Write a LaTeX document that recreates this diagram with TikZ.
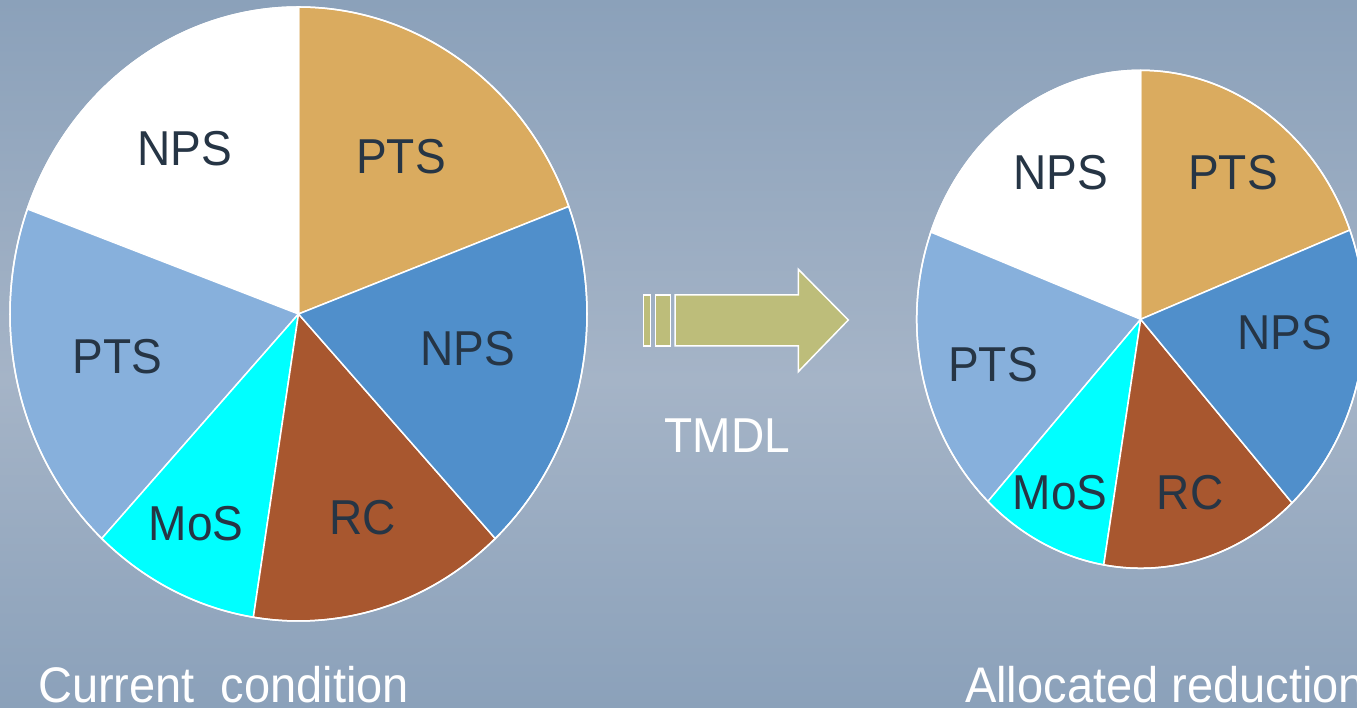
\documentclass[tikz,border=0pt]{standalone}
\usepackage{fontspec}
\setmainfont{Liberation Sans}
\definecolor{bgedge}{HTML}{8BA1BA}
\definecolor{bgmid}{HTML}{A5B4C7}
\definecolor{ptsA}{HTML}{DAAB5F}
\definecolor{npsB}{HTML}{508FCB}
\definecolor{rcC}{HTML}{A8572F}
\definecolor{mosC}{HTML}{00FFFF}
\definecolor{ptsL}{HTML}{87B0DC}
\definecolor{labelC}{HTML}{263545}
\definecolor{arrowC}{HTML}{BDBD7A}
\newcommand{\sqz}[1]{\scalebox{0.94}[1]{#1}}
\tikzset{
  slice/.style={draw=white, line width=1.5pt, line join=round},
  plabel/.style={inner sep=0pt, text=labelC, font=\fontsize{49}{55}\selectfont},
  wlabel/.style={inner sep=0pt, text=white, font=\fontsize{49}{55}\selectfont},
  caption/.style={inner sep=0pt, anchor=base west, text=white, font=\fontsize{50}{56}\selectfont},
  arrowpart/.style={fill=arrowC, draw=white, line width=1.5pt, line join=miter}
}
\newcommand{\pieslice}[7]{% center x, center y, rx, ry, a, b, color
  \fill[slice, fill=#7] (#1,#2) -- ++(#5:#3 and #4) arc[start angle=#5, end angle=#6, x radius=#3, y radius=#4] -- cycle;}
\begin{document}
\begin{tikzpicture}[x=1pt,y=1pt]
\clip (0,0) rectangle (1357,708);
\shade[top color=bgedge, bottom color=bgmid] (0,328) rectangle (1357,708);
\shade[top color=bgmid, bottom color=bgedge] (0,0) rectangle (1357,328.5);

% left pie
\pieslice{298.5}{394}{288.5}{307}{20.5}{90}{ptsA}
\pieslice{298.5}{394}{288.5}{307}{90}{160}{white}
\pieslice{298.5}{394}{288.5}{307}{160}{227}{ptsL}
\pieslice{298.5}{394}{288.5}{307}{227}{261}{mosC}
\pieslice{298.5}{394}{288.5}{307}{261}{313}{rcC}
\pieslice{298.5}{394}{288.5}{307}{313}{380.5}{npsB}
\draw[white, line width=1.5pt] (298.5,394) ellipse[x radius=288.5, y radius=307];

\node[plabel] (lnpsw) at (185,559) {\sqz{NPS}};
\node[plabel] (lpts) at (401,551) {\sqz{PTS}};
\node[plabel] (lnpsb) at (468,359) {\sqz{NPS}};
\node[plabel] (lptsl) at (117.5,351) {\sqz{PTS}};
\node[plabel] (lmos) at (196,184) {\sqz{MoS}};
\node[plabel] (lrc) at (363,190.5) {\sqz{RC}};

% right pie
\pieslice{1140.7}{388.7}{224}{249}{21}{90}{ptsA}
\pieslice{1140.7}{388.7}{224}{249}{90}{159.5}{white}
\pieslice{1140.7}{388.7}{224}{249}{159.5}{227}{ptsL}
\pieslice{1140.7}{388.7}{224}{249}{227}{260.5}{mosC}
\pieslice{1140.7}{388.7}{224}{249}{260.5}{312.5}{rcC}
\pieslice{1140.7}{388.7}{224}{249}{312.5}{381}{npsB}
\draw[white, line width=1.5pt] (1140.7,388.7) ellipse[x radius=224, y radius=249];

\node[plabel] (rnpsw) at (1060.7,535.3) {\sqz{NPS}};
\node[plabel] (rpts) at (1233,535.3) {\sqz{PTS}};
\node[plabel] (rnpsb) at (1285,375) {\sqz{NPS}};
\node[plabel] (rptsl) at (993,343) {\sqz{PTS}};
\node[plabel] (rmos) at (1060,215) {\sqz{MoS}};
\node[plabel] (rrc) at (1190,215) {\sqz{RC}};

% arrow
\filldraw[arrowpart] (643.3,362) rectangle (650.7,413);
\filldraw[arrowpart] (655.7,362) rectangle (670.7,413);
\filldraw[arrowpart] (675,362) -- (798.3,362) -- (798.3,336.3) -- (848.3,388) -- (798.3,438.7) -- (798.3,413) -- (675,413) -- cycle;

\node[wlabel] (tmdl) at (727.5,272.5) {\sqz{TMDL}};

\node[caption] (cur) at (38,5.5) {\sqz{Current\ \ condition}};
\node[caption] (alloc) at (965,5.5) {\sqz{Allocated reduction}};
\end{tikzpicture}
\end{document}
